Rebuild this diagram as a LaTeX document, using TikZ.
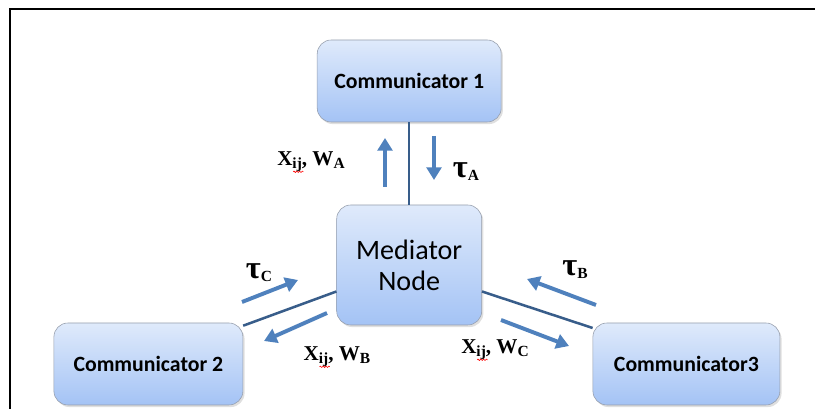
\documentclass[tikz,border=0pt]{standalone}
\usepackage{fontspec}
\setmainfont{Liberation Serif}
\newfontfamily\boxfont{Carlito}
\usetikzlibrary{positioning, calc, arrows.meta, shadows, decorations.pathmorphing}
\definecolor{boxtop}{RGB}{223,234,251}
\definecolor{boxbot}{RGB}{164,195,245}
\definecolor{boxline}{RGB}{150,158,172}
\definecolor{linkblue}{RGB}{56,93,138}
\definecolor{flowblue}{RGB}{79,129,189}
\newcommand{\lowsub}[1]{\raisebox{-0.3ex}{\fontsize{11}{11}\selectfont #1}}
\newcommand{\bigtau}{{\fontsize{23}{23}\selectfont τ}}
\tikzset{
  comm/.style={draw=boxline, rounded corners=0.35cm, top color=boxtop, bottom color=boxbot,
    minimum width=4.6cm, minimum height=2.05cm,
    drop shadow={opacity=0.25, shadow xshift=1.2pt, shadow yshift=-1.5pt},
    font=\boxfont\bfseries\fontsize{15.5}{18}\selectfont},
  mednode/.style={comm, minimum width=3.625cm, minimum height=3cm, align=center,
    font=\boxfont\fontsize{20}{22}\selectfont},
  link/.style={draw=linkblue, line width=1.8pt},
  flow/.style={draw=flowblue, line width=2.8pt, -{Triangle[length=9pt,width=10.5pt]}},
  lab/.style={font=\bfseries\fontsize{15}{15}\selectfont},
  spell/.style={draw=red, line width=0.4pt, decorate,
    decoration={snake, amplitude=0.5pt, segment length=2pt}}
}

\begin{document}
\begin{tikzpicture}
\useasboundingbox (0,0) rectangle (20.375,10.225);
\draw[line width=1.2pt] (0.25,0) |- (20.375,10.0);

\node[comm] (com1) at (10.23,8.2) {Communicator 1};
\node[mednode] (med) at (10.23,3.6) {Mediator\\Node};
\node[comm, minimum width=4.725cm] (com2) at (3.71,1.125) {Communicator 2};
\node[comm, minimum width=4.675cm] (com3) at (17.16,1.125) {Communicator3};

\draw[link] (com1) -- (med);
\draw[link] (med.200) -- (com2.22);
\draw[link] (med.340) -- (com3.159);

\coordinate (upS) at (9.625,5.55);   \coordinate (upE) at (9.625,6.775);
\coordinate (dnS) at (10.85,6.825);  \coordinate (dnE) at (10.85,5.725);
\coordinate (tcS) at (6.05,2.675);   \coordinate (tcE) at (7.45,3.225);
\coordinate (wbS) at (8.175,2.4);    \coordinate (wbE) at (6.6,1.7);
\coordinate (tbS) at (14.9,2.6);     \coordinate (tbE) at (13.175,3.25);
\coordinate (wcS) at (12.525,2.225); \coordinate (wcE) at (14.225,1.575);
\draw[flow] (upS) -- (upE);
\draw[flow] (dnS) -- (dnE);
\draw[flow] (tcS) -- (tcE);
\draw[flow] (wbS) -- (wbE);
\draw[flow] (tbS) -- (tbE);
\draw[flow] (wcS) -- (wcE);

\node[lab] (wa) at (7.775,6.175) {X\lowsub{ij}, W\lowsub{A}};
\node[lab] (ta) at (11.65,5.925) {\bigtau\lowsub{A}};
\node[lab] (tc) at (6.475,3.4) {\bigtau\lowsub{C}};
\node[lab] (wb) at (8.425,1.3) {X\lowsub{ij}, W\lowsub{B}};
\node[lab] (tb) at (14.375,3.475) {\bigtau\lowsub{B}};
\node[lab] (wc) at (12.375,1.475) {X\lowsub{ij}, W\lowsub{C}};

\foreach \n in {wa,wb,wc}
  \draw[spell] ($(\n.base west)+(0.52,-0.15)$) -- ++(0.26,0);
\end{tikzpicture}
\end{document}
